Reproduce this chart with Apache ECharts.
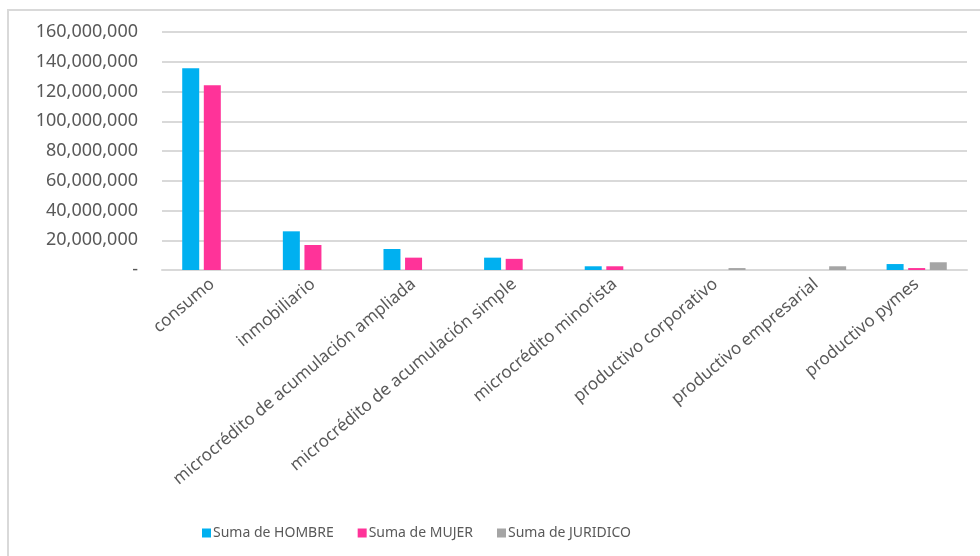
<!DOCTYPE html>
<html>
<head>
<meta charset="utf-8">
<script src="https://cdn.jsdelivr.net/npm/echarts@6/dist/echarts.min.js"></script>
<style>
  html, body { margin: 0; padding: 0; background: #fff; }
  #chart { width: 980px; height: 556px; }
</style>
</head>
<body>
<div id="chart"></div>
<script>
// categorías del eje x
const categories = [
  'consumo',
  'inmobiliario',
  'microcrédito de acumulación ampliada',
  'microcrédito de acumulación simple',
  'microcrédito minorista',
  'productivo corporativo',
  'productivo empresarial',
  'productivo pymes'
];

// valores
const hombre = [135600000, 26000000, 14100000, 8300000, 2500000, 0, 0, 4000000];
const mujer = [124200000, 16800000, 8300000, 7500000, 2500000, 0, 0, 1300000];
const juridico = [0, 0, 0, 0, 0, 1300000, 2500000, 5200000];

const seriesNames = ['Suma de HOMBRE', 'Suma de MUJER', 'Suma de JURIDICO'];
const seriesColors = ['#00B0F0', '#FF3399', '#A5A5A5'];

const chart = echarts.init(document.getElementById('chart'));

const makeBar = (name, data, color) => ({
  name: name,
  type: 'bar',
  data: data,
  barWidth: 17,
  barGap: '27%',
  itemStyle: { color: color },
});

chart.setOption({
  animation: false,
  textStyle: { fontFamily: 'Noto Sans' },
  graphic: [
    {
      type: 'rect',
      shape: { x: 8, y: 10, width: 1000, height: 600 },
      style: { fill: 'none', stroke: '#d9d9d9', lineWidth: 2 },
      silent: true,
    },
  ],
  grid: {
    left: 162,
    right: 13,
    top: 32,
    bottom: 286,
  },
  legend: {
    left: 197,
    top: 521,
    itemWidth: 9,
    itemHeight: 9,
    itemGap: 24,
    icon: 'rect',
    textStyle: { color: '#595959', fontSize: 14, padding: [0, 0, 0, -3] },
    data: seriesNames,
  },
  xAxis: {
    type: 'category',
    data: categories,
    axisLine: { lineStyle: { color: '#d9d9d9', width: 2 } },
    axisTick: { show: false },
    axisLabel: {
      rotate: 40,
      interval: 0,
      margin: 12,
      color: '#595959',
      fontSize: 17,
    },
  },
  yAxis: {
    type: 'value',
    min: 0,
    max: 160000000,
    interval: 20000000,
    axisLine: { show: false },
    axisTick: { show: false },
    splitLine: { lineStyle: { color: '#d9d9d9', width: 2 } },
    axisLabel: {
      color: '#595959',
      fontSize: 18,
      margin: 24,
      formatter: v => (v === 0 ? '-' : v.toLocaleString('en-US')),
    },
  },
  series: [
    makeBar(seriesNames[0], hombre, seriesColors[0]),
    makeBar(seriesNames[1], mujer, seriesColors[1]),
    makeBar(seriesNames[2], juridico, seriesColors[2]),
  ],
});
</script>
</body>
</html>
